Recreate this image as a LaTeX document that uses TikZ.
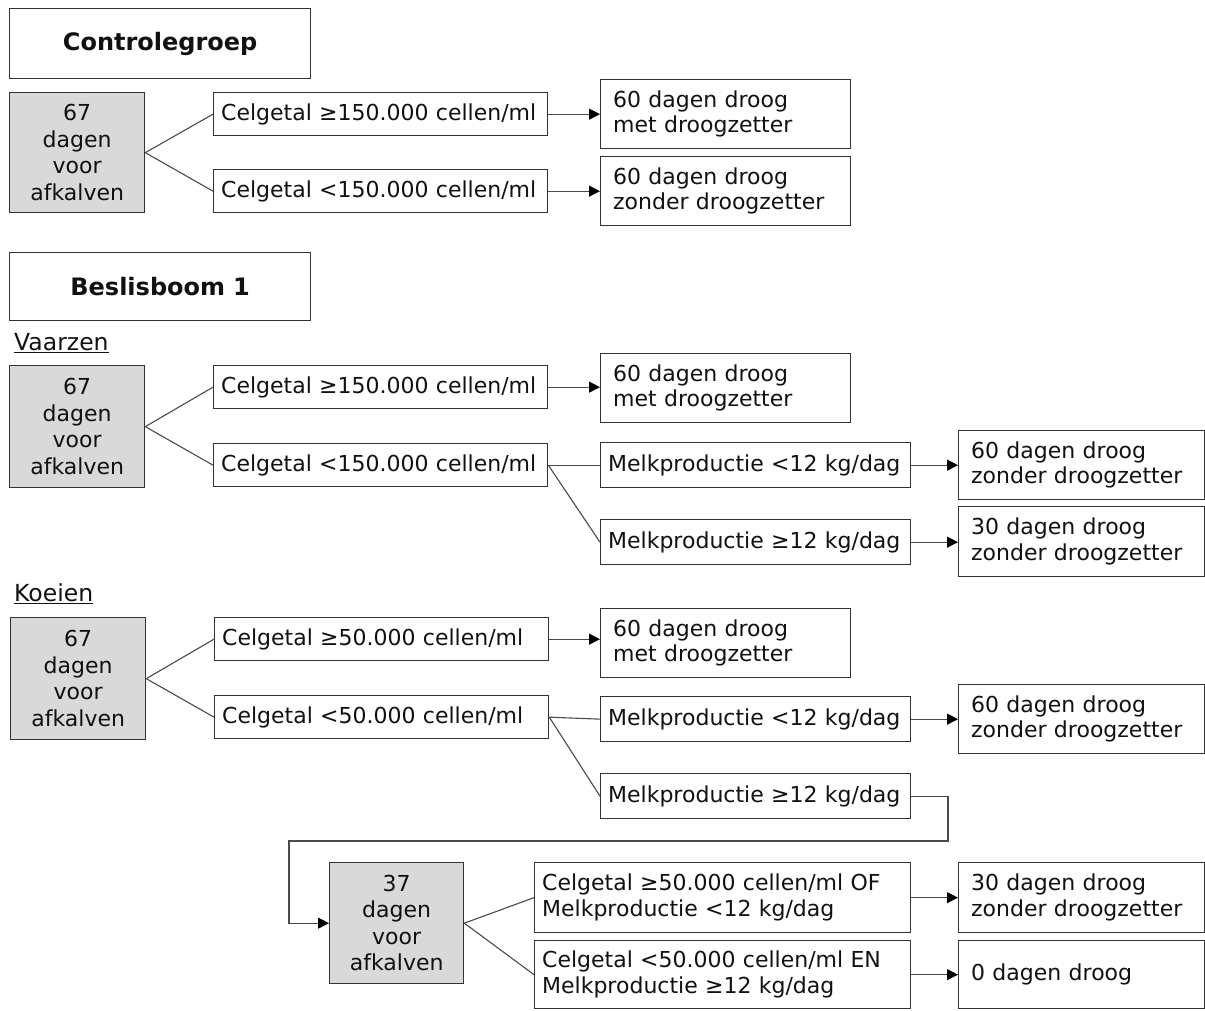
\documentclass[tikz,border=0pt]{standalone}
\usepackage{fontspec}
\setmainfont{DejaVu Sans}
\usetikzlibrary{arrows.meta}
\definecolor{boxgray}{HTML}{D9D9D9}
\definecolor{edge}{HTML}{333333}
\definecolor{wire}{HTML}{4A4A4A}
\definecolor{ink}{HTML}{111111}
\begin{document}
\begin{tikzpicture}[x=1pt,y=-1pt,
  base/.style={draw=edge,line width=1.3pt,anchor=north west,inner ysep=0pt,text=ink,
    font=\fontsize{22}{25.5}\selectfont},
  titlebox/.style={base,align=center,font=\fontsize{24}{28}\selectfont\bfseries},
  graybox/.style={base,fill=boxgray,align=center,inner xsep=0pt,font=\fontsize{22}{26.5}\selectfont},
  condbox/.style={base,align=left,inner xsep=7.5pt},
  resbox/.style={base,align=left,inner xsep=12.5pt},
  conn/.style={draw=wire,line width=1.1pt},
  arr/.style={conn,-{Triangle[length=11pt,width=11pt,fill=black,color=black]}},
  lbl/.style={anchor=base west,inner sep=0pt,text=ink,font=\fontsize{23.5}{28}\selectfont}]
\useasboundingbox (0,0) rectangle (1205,1010);

% ---------- Controlegroep ----------
\node[titlebox,minimum width=301pt,minimum height=70pt,text width=290pt] (t1) at (9,8) {Controlegroep};
\node[graybox,minimum width=135pt,minimum height=120pt,text width=130pt] (g1) at (9,92) {67\\dagen\\voor\\afkalven};
\node[condbox,minimum width=334pt,minimum height=43pt,text width=319pt] (c1) at (213,92) {Celgetal ≥150.000 cellen/ml};
\node[condbox,minimum width=334pt,minimum height=43pt,text width=319pt] (c2) at (213,169) {Celgetal <150.000 cellen/ml};
\node[resbox,minimum width=250pt,minimum height=69pt,text width=225pt] (r1) at (600,79) {60 dagen droog\\met droogzetter};
\node[resbox,minimum width=250pt,minimum height=69pt,text width=225pt] (r2) at (600,156) {60 dagen droog\\zonder droogzetter};
\draw[conn] (g1.east) -- (c1.west);
\draw[conn] (g1.east) -- (c2.west);
\draw[arr] (c1.east) -- (r1.west |- c1.east);
\draw[arr] (c2.east) -- (r2.west |- c2.east);

% ---------- Beslisboom 1 ----------
\node[titlebox,minimum width=301pt,minimum height=68pt,text width=290pt] (t2) at (9,252) {Beslisboom 1};
\node[lbl] (vz) at (14,350) {\underline{Vaarzen}};
\node[graybox,minimum width=135pt,minimum height=122pt,text width=130pt] (g2) at (9,365) {67\\dagen\\voor\\afkalven};
\node[condbox,minimum width=334pt,minimum height=43pt,text width=319pt] (c3) at (213,365) {Celgetal ≥150.000 cellen/ml};
\node[condbox,minimum width=334pt,minimum height=43pt,text width=319pt] (c4) at (213,443) {Celgetal <150.000 cellen/ml};
\node[resbox,minimum width=250pt,minimum height=69pt,text width=225pt] (r3) at (600,353) {60 dagen droog\\met droogzetter};
\node[condbox,minimum width=310pt,minimum height=45pt,text width=295pt] (m1) at (600,442) {Melkproductie <12 kg/dag};
\node[condbox,minimum width=310pt,minimum height=45pt,text width=295pt] (m2) at (600,519) {Melkproductie ≥12 kg/dag};
\node[resbox,minimum width=246pt,minimum height=69pt,text width=221pt] (r4) at (958,430) {60 dagen droog\\zonder droogzetter};
\node[resbox,minimum width=246pt,minimum height=70pt,text width=221pt] (r5) at (958,506) {30 dagen droog\\zonder droogzetter};
\draw[conn] (g2.east) -- (c3.west);
\draw[conn] (g2.east) -- (c4.west);
\draw[arr] (c3.east) -- (r3.west |- c3.east);
\draw[conn] (c4.east) -- (m1.west);
\draw[conn] (c4.east) -- (m2.west);
\draw[arr] (m1.east) -- (r4.west |- m1.east);
\draw[arr] (m2.east) -- (r5.west |- m2.east);

% ---------- Koeien ----------
\node[lbl] (kz) at (14,601) {\underline{Koeien}};
\node[graybox,minimum width=135pt,minimum height=122pt,text width=130pt] (g3) at (10,617) {67\\dagen\\voor\\afkalven};
\node[condbox,minimum width=334pt,minimum height=43pt,text width=319pt] (c5) at (214,617) {Celgetal ≥50.000 cellen/ml};
\node[condbox,minimum width=334pt,minimum height=43pt,text width=319pt] (c6) at (214,695) {Celgetal <50.000 cellen/ml};
\node[resbox,minimum width=250pt,minimum height=69pt,text width=225pt] (r6) at (600,608) {60 dagen droog\\met droogzetter};
\node[condbox,minimum width=310pt,minimum height=45pt,text width=295pt] (m3) at (600,696) {Melkproductie <12 kg/dag};
\node[condbox,minimum width=310pt,minimum height=45pt,text width=295pt] (m4) at (600,773) {Melkproductie ≥12 kg/dag};
\node[resbox,minimum width=246pt,minimum height=69pt,text width=221pt] (r7) at (958,684) {60 dagen droog\\zonder droogzetter};
\draw[conn] (g3.east) -- (c5.west);
\draw[conn] (g3.east) -- (c6.west);
\draw[arr] (c5.east) -- (r6.west |- c5.east);
\draw[conn] (c6.east) -- (m3.west);
\draw[conn] (c6.east) -- (m4.west);
\draw[arr] (m3.east) -- (r7.west |- m3.east);

% ---------- 37 dagen ----------
\node[graybox,minimum width=134pt,minimum height=121pt,text width=130pt] (g4) at (329,862) {37\\dagen\\voor\\afkalven};
\node[condbox,minimum width=376pt,minimum height=70pt,text width=361pt] (k1) at (534,862) {Celgetal ≥50.000 cellen/ml OF\\Melkproductie <12 kg/dag};
\node[condbox,minimum width=376pt,minimum height=68pt,text width=361pt] (k2) at (534,940) {Celgetal <50.000 cellen/ml EN\\Melkproductie ≥12 kg/dag};
\node[resbox,minimum width=246pt,minimum height=70pt,text width=221pt] (r8) at (958,862) {30 dagen droog\\zonder droogzetter};
\node[resbox,minimum width=246pt,minimum height=68pt,text width=221pt] (r9) at (958,940) {0 dagen droog};
\coordinate (b1) at (948,841);
\coordinate (b2) at (289,841);
\draw[arr] (m4.east) -| (b1) -- (b2) |- (g4.west);
\draw[conn] (g4.east) -- (k1.west);
\draw[conn] (g4.east) -- (k2.west);
\draw[arr] (k1.east) -- (r8.west |- k1.east);
\draw[arr] (k2.east) -- (r9.west |- k2.east);
\end{tikzpicture}
\end{document}
